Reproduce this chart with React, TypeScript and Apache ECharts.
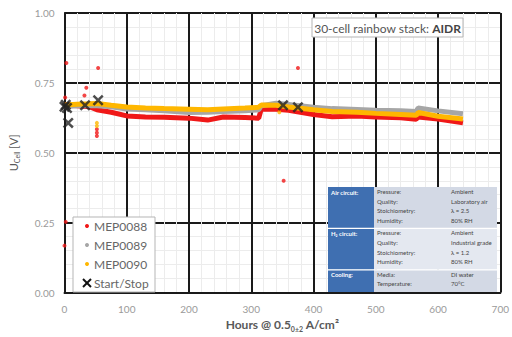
import React, { useEffect, useRef } from "react";
import * as echarts from "echarts";

const hours = [0, 20, 40, 52, 75, 100, 130, 160, 200, 230, 255, 290, 312, 316, 340, 360, 400, 430, 470, 500, 540, 565, 568, 600, 640];
const mep0088 = [0.672, 0.668, 0.665, 0.654, 0.645, 0.632, 0.628, 0.627, 0.624, 0.617, 0.628, 0.626, 0.624, 0.656, 0.656, 0.652, 0.637, 0.629, 0.632, 0.628, 0.625, 0.62, 0.628, 0.621, 0.607];
const mep0089 = [0.665, 0.668, 0.668, 0.668, 0.665, 0.657, 0.654, 0.65, 0.644, 0.645, 0.648, 0.65, 0.654, 0.668, 0.677, 0.673, 0.663, 0.658, 0.655, 0.652, 0.65, 0.648, 0.66, 0.65, 0.64];
const mep0090 = [0.671, 0.674, 0.675, 0.676, 0.67, 0.664, 0.66, 0.658, 0.656, 0.654, 0.657, 0.66, 0.663, 0.671, 0.67, 0.664, 0.654, 0.648, 0.645, 0.641, 0.637, 0.634, 0.644, 0.631, 0.621];

const outliers0088 = [[3, 0.821], [54, 0.803], [35, 0.733], [32, 0.705], [1, 0.698], [52, 0.584], [52, 0.572], [52, 0.56], [375, 0.803], [352, 0.4], [2, 0.253], [0, 0.168]];
const outliers0090 = [[52, 0.607], [52, 0.596], [345, 0.645]];
const startStop = [[0, 0.665], [2, 0.672], [4, 0.66], [6, 0.607], [33, 0.67], [54, 0.688], [351, 0.67], [375, 0.663]];

const seriesNames = ["MEP0088", "MEP0089", "MEP0090", "Start/Stop"];
const colors = ["#f01818", "#a6a6a6", "#ffb700", "#222222"];

const xTicks = [0, 100, 200, 300, 400, 500, 600, 700];

const tableGroups = [
  { head: "Air circuit:", rows: [["Pressure:", "Ambient"], ["Quality:", "Laboratory air"], ["Stoichiometry:", "λ = 2.5"], ["Humidity:", "80% RH"]] },
  { head: "H₂ circuit:", rows: [["Pressure:", "Ambient"], ["Quality:", "Industrial grade"], ["Stoichiometry:", "λ = 1.2"], ["Humidity:", "80% RH"]] },
  { head: "Cooling:", rows: [["Media:", "DI water"], ["Temperature:", "70°C"]] },
];

const XPATH = "path://M0,1.6L1.6,0L5,3.4L8.4,0L10,1.6L6.6,5L10,8.4L8.4,10L5,6.6L1.6,10L0,8.4L3.4,5Z";
const FONT = "Lato";

export default function App() {
  const ref = useRef<HTMLDivElement>(null);
  useEffect(() => {
    const chart = echarts.init(ref.current!, null, { renderer: "svg" });
    const pair = (ys: number[]) => hours.map((h, i) => [h, ys[i]]);

    const tX = 328, tW = 169, blueW = 46;
    const rowH = 9.6;
    const graphics: any[] = [];
    let y = 187;
    tableGroups.forEach((g, gi) => {
      const h = g.rows.length * rowH + 3;
      graphics.push({ type: "rect", shape: { x: tX, y, width: blueW, height: h }, style: { fill: "#3f6fb1" }, z: 10 });
      graphics.push({ type: "rect", shape: { x: tX + blueW, y, width: tW - blueW, height: h }, style: { fill: gi === 1 ? "#e4e8f0" : "#d3d9e5" }, z: 10 });
      graphics.push({ type: "text", x: tX + 3, y: y + 2, style: { text: g.head, fill: "#ffffff", fontSize: 6, fontFamily: FONT, fontWeight: "bold" }, z: 11 });
      g.rows.forEach((r, ri) => {
        const ty = y + 1.5 + ri * rowH;
        graphics.push({ type: "text", x: 377, y: ty, style: { text: r[0], fill: "#444", fontSize: 6, fontFamily: FONT }, z: 11 });
        graphics.push({ type: "text", x: 451, y: ty, style: { text: r[1], fill: "#444", fontSize: 6, fontFamily: FONT }, z: 11 });
      });
      y += h;
      if (gi < tableGroups.length - 1) {
        graphics.push({ type: "line", shape: { x1: tX, y1: y, x2: tX + tW, y2: y }, style: { stroke: "#ffffff", lineWidth: 1.2 }, z: 12 });
      }
    });

    graphics.push({ type: "rect", shape: { x: 73, y: 217, width: 82, height: 75 }, style: { fill: "#ffffff", stroke: "#b5b5b5", lineWidth: 1 }, z: 10 });
    seriesNames.forEach((n, i) => {
      const cy = 226 + i * 19;
      if (i < 3) {
        graphics.push({ type: "circle", shape: { cx: 87, cy, r: 2 }, style: { fill: colors[i] }, z: 11 });
      } else {
        graphics.push({ type: "line", shape: { x1: 83, y1: cy - 4, x2: 91, y2: cy + 4 }, style: { stroke: "#111", lineWidth: 2 }, z: 11 });
        graphics.push({ type: "line", shape: { x1: 91, y1: cy - 4, x2: 83, y2: cy + 4 }, style: { stroke: "#111", lineWidth: 2 }, z: 11 });
      }
      graphics.push({ type: "text", x: 94, y: cy, style: { text: n, fill: "#666", fontSize: 12, fontFamily: FONT, verticalAlign: "middle" }, z: 11 });
    });

    graphics.push({ type: "rect", shape: { x: 312, y: 18, width: 151, height: 19 }, style: { fill: "#ffffff", stroke: "#b5b5b5", lineWidth: 1 }, z: 10 });
    graphics.push({
      type: "text", x: 387.5, y: 28, z: 11,
      style: {
        text: "{a|30-cell rainbow stack: }{b|AIDR}", align: "center", verticalAlign: "middle",
        rich: { a: { fontSize: 12, fill: "#555", fontFamily: FONT }, b: { fontSize: 12, fill: "#444", fontFamily: FONT, fontWeight: "bold" } },
      },
    });

    chart.setOption({
      animation: false,
      textStyle: { fontFamily: FONT },
      grid: { left: 64, right: 7, top: 13, bottom: 39, containLabel: false },
      xAxis: {
        type: "value", min: 0, max: 700, interval: 100,
        name: "{a|Hours @ 0.5}{s|0±2}{a| A/cm²}", nameLocation: "middle", nameGap: 21,
        nameTextStyle: {
          rich: {
            a: { fontSize: 12, fontWeight: "bold", color: "#595959", fontFamily: FONT, lineHeight: 15 },
            s: { fontSize: 7, fontWeight: "bold", color: "#595959", fontFamily: FONT, lineHeight: 8, verticalAlign: "bottom" },
          },
        },
        axisLine: { show: true, lineStyle: { color: "#1a1a1a", width: 2 } },
        axisTick: { show: false },
        axisLabel: { color: "#9a9a9a", fontSize: 10, margin: 11, fontFamily: FONT, formatter: (v: number) => (xTicks.includes(v) ? String(v) : "") },
        splitLine: { show: true, lineStyle: { color: "#1a1a1a", width: 2 } },
        minorTick: { show: false, splitNumber: 5 },
        minorSplitLine: { show: true, lineStyle: { color: "#ececec", width: 1 } },
      },
      yAxis: {
        type: "value", min: 0, max: 1, interval: 0.25,
        name: "{a|U}{s|Cell}{a| [V]}", nameLocation: "middle", nameGap: 44,
        nameTextStyle: {
          rich: {
            a: { fontSize: 11, color: "#595959", fontFamily: FONT, lineHeight: 14 },
            s: { fontSize: 7, color: "#595959", fontFamily: FONT, lineHeight: 8, verticalAlign: "bottom" },
          },
        },
        axisLine: { show: true, lineStyle: { color: "#1a1a1a", width: 2 } },
        axisTick: { show: false },
        axisLabel: { color: "#9a9a9a", fontSize: 10, margin: 10, fontFamily: FONT, formatter: (v: number) => v.toFixed(2) },
        splitLine: { show: true, lineStyle: { color: "#1a1a1a", width: 2 } },
        minorTick: { show: false, splitNumber: 5 },
        minorSplitLine: { show: true, lineStyle: { color: "#ececec", width: 1 } },
      },
      series: [
        { name: seriesNames[0], type: "line", data: pair(mep0088), showSymbol: false, lineStyle: { color: colors[0], width: 5 }, itemStyle: { color: colors[0] }, z: 2 },
        { name: seriesNames[1], type: "line", data: pair(mep0089), showSymbol: false, lineStyle: { color: colors[1], width: 5 }, itemStyle: { color: colors[1] }, z: 3 },
        { name: seriesNames[2], type: "line", data: pair(mep0090), showSymbol: false, lineStyle: { color: colors[2], width: 5 }, itemStyle: { color: colors[2] }, z: 4 },
        { name: seriesNames[0], type: "scatter", data: outliers0088, symbolSize: 4, itemStyle: { color: colors[0] }, z: 2 },
        { name: seriesNames[2], type: "scatter", data: outliers0090, symbolSize: 4, itemStyle: { color: colors[2] }, z: 4 },
        { name: seriesNames[3], type: "scatter", data: startStop, symbol: XPATH, symbolSize: 11, itemStyle: { color: colors[3] }, z: 6 },
      ],
      graphic: graphics,
    });
    return () => chart.dispose();
  }, []);
  return <div ref={ref} style={{ width: 512, height: 337, position: "absolute", left: 0, top: 0 }} />;
}
